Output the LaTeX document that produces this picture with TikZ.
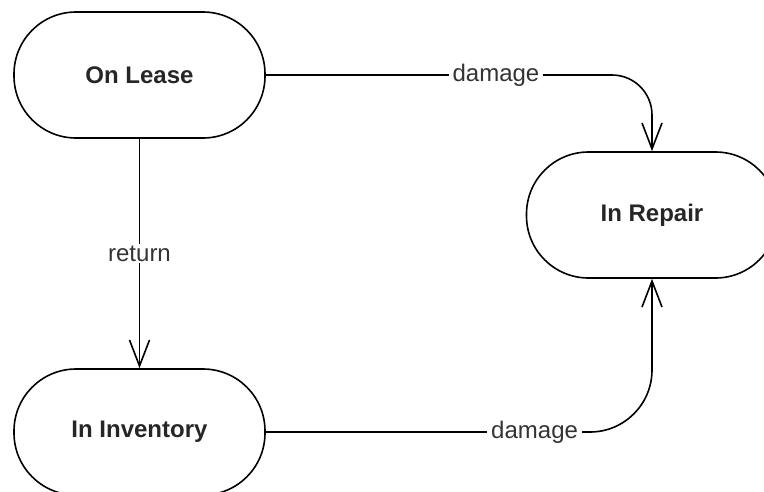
\documentclass[tikz,border=0pt]{standalone}
\usepackage{fontspec}
\setmainfont{Liberation Sans}
\usetikzlibrary{arrows.meta}
\begin{document}
\begin{tikzpicture}[x=1pt,y=-1pt,
  statebox/.style={draw=black,line width=1.6pt,rounded corners=62pt,minimum width=251pt,minimum height=126pt,inner sep=0pt,font=\fontsize{24}{28}\selectfont\bfseries,text=black!85},
  lbl/.style={fill=white,inner xsep=4pt,inner ysep=2pt,font=\fontsize{24}{28}\selectfont,text=black!80,rounded corners=0pt},
  arr/.style={line width=1.6pt,-{Straight Barb[length=26pt,width=20pt,line width=1.6pt]}}]
\path[use as bounding box,clip] (0,0) rectangle (764,491);
\node[statebox] (lease) at (139.5,75) {On Lease};
\node[statebox] (repair) at (652,215) {In Repair};
\node[statebox] (inv) at (139.5,432) {In Inventory};
\draw[arr] (lease.south) -- node[lbl]{return} (inv.north);
\draw[arr,rounded corners=40pt] (lease.east) -| node[lbl,pos=0.298]{damage} (repair.north);
\draw[arr,rounded corners=62pt] (inv.east) -| node[lbl,pos=0.348]{damage} (repair.south);
\end{tikzpicture}
\end{document}
